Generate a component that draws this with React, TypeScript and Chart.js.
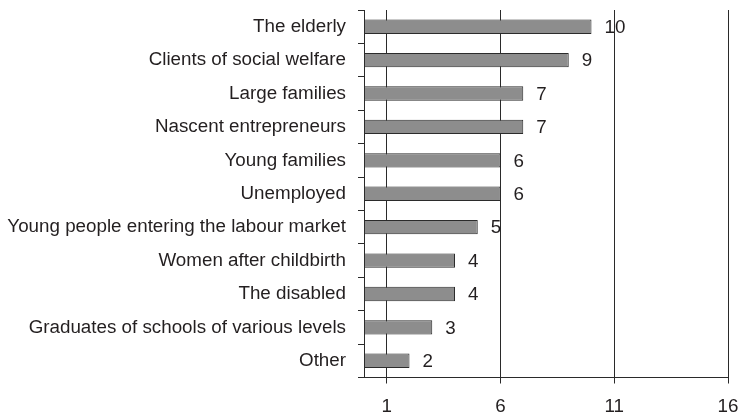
import React, { useEffect, useRef } from "react";
import { Chart, registerables } from "chart.js";

Chart.register(...registerables);

const categories = [
  "The elderly",
  "Clients of social welfare",
  "Large families",
  "Nascent entrepreneurs",
  "Young families",
  "Unemployed",
  "Young people entering the labour market",
  "Women after childbirth",
  "The disabled",
  "Graduates of schools of various levels",
  "Other",
];
const values = [10, 9, 7, 7, 6, 6, 5, 4, 4, 3, 2];
const xTicks = [1, 6, 11, 16];

const FONT = "'Liberation Sans', Arial, sans-serif";
const TEXT = "#231f20";
const SIZE = 18.8;

const valueLabels = {
  id: "valueLabels",
  afterDatasetsDraw(chart: any) {
    const ctx = chart.ctx;
    const meta = chart.getDatasetMeta(0);
    ctx.save();
    ctx.font = `${SIZE}px ${FONT}`;
    ctx.fillStyle = TEXT;
    ctx.textAlign = "left";
    ctx.textBaseline = "middle";
    meta.data.forEach((bar: any, i: number) => {
      ctx.fillText(String(values[i]), bar.x + 13, bar.y + 1);
    });
    ctx.restore();
  },
};

export default function App() {
  const ref = useRef<HTMLCanvasElement>(null);
  useEffect(() => {
    document.body.style.margin = "0";
    const chart = new Chart(ref.current!, {
      type: "bar",
      data: {
        labels: categories,
        datasets: [
          {
            data: values,
            backgroundColor: "#8d8d8d",
            borderColor: "#2b2b2b",
            borderWidth: 1,
            borderSkipped: false,
            barPercentage: 0.86,
            categoryPercentage: 0.5,
          },
        ],
      },
      options: {
        indexAxis: "y",
        animation: false,
        responsive: false,
        layout: { padding: { top: 10, right: 11, left: 0, bottom: 0 } },
        plugins: { legend: { display: false }, tooltip: { enabled: false } },
        scales: {
          x: {
            min: 0,
            max: 16,
            afterBuildTicks: (s: any) => {
              s.ticks = xTicks.map((v) => ({ value: v }));
            },
            afterFit: (s: any) => {
              s.height = 35.5;
              s.paddingLeft = 0;
              s.paddingRight = 0;
            },
            grid: { color: "#2a2a2a", lineWidth: 1, tickLength: 6 },
            border: { color: "#2a2a2a" },
            ticks: { color: TEXT, font: { size: SIZE, family: FONT }, padding: 12, maxRotation: 0, autoSkip: false },
          },
          y: {
            afterFit: (s: any) => {
              s.width = 364;
              s.paddingTop = 0;
              s.paddingBottom = 0;
            },
            grid: { drawOnChartArea: false, color: "#2a2a2a", tickLength: 6, offset: true },
            border: { color: "#2a2a2a" },
            ticks: { color: TEXT, font: { size: SIZE, family: FONT }, padding: 12, autoSkip: false },
          },
        },
      },
      plugins: [valueLabels],
    });
    return () => chart.destroy();
  }, []);
  return <canvas ref={ref} width={739} height={413} style={{ display: "block" }} />;
}
